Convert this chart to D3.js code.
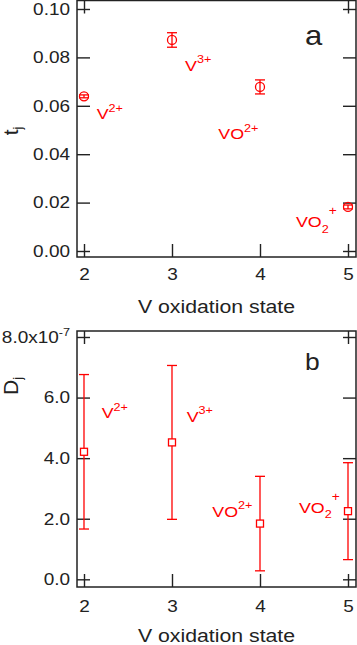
<!DOCTYPE html>
<html>
<head>
<meta charset="utf-8">
<script src="https://cdn.jsdelivr.net/npm/d3@7"></script>
<style>
  html, body { margin: 0; padding: 0; background: #fff; }
  svg { display: block; font-family: "Liberation Sans", Arial, sans-serif; }
</style>
</head>
<body>
<div id="chart"></div>
<script>
// Transference number (a) and diffusion coefficient (b) of vanadium ions

const states = [2, 3, 4, 5]
const ionBase = ["V", "V", "VO", "VO"]
const ionSub = ["", "", "", "2"]
const ionSup = ["2+", "3+", "2+", "+"]

const tj = [0.0639, 0.0872, 0.0678, 0.0182]
const tjErr = [0.0006, 0.003, 0.0029, 0.0008]
const dj = [4.21, 4.52, 1.84, 2.25] // x1e-7
const djErr = [2.55, 2.54, 1.56, 1.6]

// where each ion name sits, in data units of its panel
const tjLabelAt = [[2.144, 0.0544], [3.148, 0.0745], [3.526, 0.0462], [4.409, 0.0098]]
const djLabelAt = [[2.201, 5.32], [3.167, 5.2], [3.458, 2.07], [4.443, 2.2]]

const xTicks = [2, 3, 4, 5]
const tjTicks = [0, 0.02, 0.04, 0.06, 0.08, 0.1]
const djTicks = [0, 2, 4, 6, 8]

const W = 357, H = 645
const SX = 1.15 // the source figure is a bit stretched sideways
const RED = "#ff0000"
const INK = "#222"
const left = 77, right = 356

const svg = d3.select("#chart").append("svg").attr("width", W).attr("height", H)

const x = d3.scaleLinear().domain([1.9205, 5.0909]).range([left, right])

function stretchedText(g, px, py, size, anchor) {
  return g
    .append("text")
    .attr("transform", `translate(${px},${py}) scale(${SX},1)`)
    .attr("font-size", size)
    .attr("text-anchor", anchor)
}

function drawPanel(o) {
  const g = svg.append("g")
  const y = d3.scaleLinear().domain(o.yDomain).range([o.bottom, o.top])

  // axes, ticks pointing inside
  const gl = g
    .append("g")
    .attr("transform", `translate(${left},0)`)
    .call(d3.axisLeft(y).tickValues(o.yTicks).tickFormat(o.fmt).tickSizeInner(-13).tickSizeOuter(0).tickPadding(7))
  gl.selectAll(".tick text").attr("x", -7 / SX).attr("transform", `scale(${SX},1)`)

  g.append("g")
    .attr("transform", `translate(${right},0)`)
    .call(d3.axisRight(y).tickValues(o.yTicks).tickFormat("").tickSizeInner(-13).tickSizeOuter(0))

  const gb = g
    .append("g")
    .attr("transform", `translate(0,${o.bottom})`)
    .call(d3.axisBottom(x).tickValues(xTicks).tickFormat(d3.format("d")).tickSizeInner(-13).tickSizeOuter(0).tickPadding(o.xPad))
  gb.selectAll(".tick text").attr("transform", `scale(${SX},1)`)

  g.append("g")
    .attr("transform", `translate(0,${o.top})`)
    .call(d3.axisTop(x).tickValues([xTicks[0], xTicks[xTicks.length - 1]]).tickFormat("").tickSizeInner(-13).tickSizeOuter(0))

  g.selectAll(".domain").remove()
  g.selectAll(".tick line").attr("stroke", INK).attr("stroke-width", 1.4)
  g.selectAll(".tick text").attr("fill", INK).attr("font-size", 16.5).attr("font-family", null)

  if (o.after) o.after(gl)

  // frame
  g.append("rect")
    .attr("x", left)
    .attr("y", o.top)
    .attr("width", right - left)
    .attr("height", o.bottom - o.top)
    .attr("fill", "none")
    .attr("stroke", INK)
    .attr("stroke-width", 1.5)

  // error bars
  const pts = states.map((s, i) => ({ s, v: o.values[i], e: o.errs[i] }))
  const eb = g.append("g").attr("stroke", RED).attr("stroke-width", 1.3).attr("fill", "none")
  pts.forEach((d) => {
    const cx = x(d.s)
    eb.append("line").attr("x1", cx).attr("x2", cx).attr("y1", y(d.v - d.e)).attr("y2", y(d.v + d.e))
    eb.append("line").attr("x1", cx - 5).attr("x2", cx + 5).attr("y1", y(d.v + d.e)).attr("y2", y(d.v + d.e))
    eb.append("line").attr("x1", cx - 5).attr("x2", cx + 5).attr("y1", y(d.v - d.e)).attr("y2", y(d.v - d.e))
  })

  // markers
  if (o.marker === "circle") {
    eb.selectAll("circle")
      .data(pts)
      .enter()
      .append("circle")
      .attr("cx", (d) => x(d.s))
      .attr("cy", (d) => y(d.v))
      .attr("r", 4.5)
  } else {
    eb.selectAll("rect")
      .data(pts)
      .enter()
      .append("rect")
      .attr("x", (d) => x(d.s) - 3.5)
      .attr("y", (d) => y(d.v) - 3.5)
      .attr("width", 7)
      .attr("height", 7)
      .attr("fill", "#fff")
  }

  // ion names
  o.labelAt.forEach((p, i) => {
    const t = stretchedText(g, x(p[0]), y(p[1]), 15.5, "start").attr("fill", RED)
    t.append("tspan").text(ionBase[i])
    if (ionSub[i]) {
      t.append("tspan").attr("font-size", 11).attr("dy", 5.4).text(ionSub[i])
      t.append("tspan").attr("font-size", 12).attr("dy", -17.5).text(ionSup[i])
    } else {
      t.append("tspan").attr("font-size", 11).attr("dy", -7.5).text(ionSup[i])
    }
  })

  // panel letter
  stretchedText(g, 305, o.top + o.letterDy, o.letterSize, "start").attr("fill", INK).text(o.letter)

  // axis titles
  stretchedText(g, (left + right) / 2, o.titleBase, 18.5, "middle").attr("fill", INK).text("V oxidation state")

  const yt = g
    .append("text")
    .attr("transform", `translate(18,${o.yTitleY}) rotate(-90)`)
    .attr("font-size", 21)
    .attr("text-anchor", "middle")
    .attr("fill", INK)
  yt.append("tspan").text(o.yTitle)
  yt.append("tspan").attr("font-size", 13).attr("dy", 4).text("j")
}

drawPanel({
  top: 0.5,
  bottom: 257,
  yDomain: [-0.00248, 0.10351],
  yTicks: tjTicks,
  fmt: d3.format(".2f"),
  xPad: 11,
  values: tj,
  errs: tjErr,
  labelAt: tjLabelAt,
  marker: "circle",
  letter: "a",
  letterDy: 44.5,
  letterSize: 27,
  titleBase: 312.7,
  yTitle: "t",
  yTitleY: 131,
})

drawPanel({
  top: 331,
  bottom: 587,
  yDomain: [-0.254, 8.198],
  yTicks: djTicks,
  fmt: d3.format(".1f"),
  xPad: 13,
  values: dj,
  errs: djErr,
  labelAt: djLabelAt,
  marker: "square",
  letter: "b",
  letterDy: 39,
  letterSize: 23,
  titleBase: 641.7,
  yTitle: "D",
  yTitleY: 386,
  after: (gl) => {
    // top tick carries the exponent
    gl.selectAll(".tick text")
      .filter((d) => d === 8)
      .each(function () {
        const t = d3.select(this).text(null)
        t.append("tspan").text("8.0x10")
        t.append("tspan").attr("font-size", 11).attr("dy", -7).text("-7")
      })
  },
})
</script>
</body>
</html>
